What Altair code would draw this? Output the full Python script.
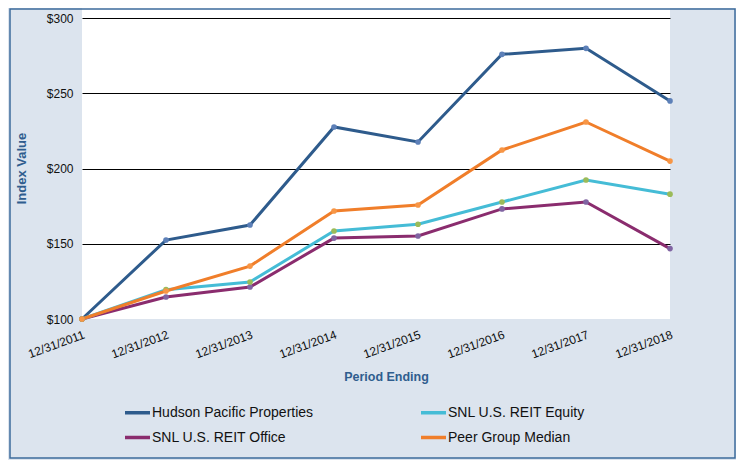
import altair as alt
import pandas as pd

periods = ["12/31/2011", "12/31/2012", "12/31/2013", "12/31/2014",
           "12/31/2015", "12/31/2016", "12/31/2017", "12/31/2018"]
series_names = ["Hudson Pacific Properties", "SNL U.S. REIT Office",
                "SNL U.S. REIT Equity", "Peer Group Median"]
hudson = [100, 152.5, 162.5, 227.7, 217.7, 276.0, 280.0, 245.0]
reit_office = [100, 114.6, 121.3, 153.8, 155.2, 173.2, 177.8, 146.8]
reit_equity = [100, 119.5, 124.6, 158.5, 163.0, 177.8, 192.4, 183.0]
peer_median = [100, 118.6, 135.2, 171.8, 175.8, 212.4, 231.0, 205.0]

line_colors = ["#2E5B8C", "#8A2C6E", "#45BCD6", "#F07E2A"]
marker_colors = ["#5D80B8", "#8064A2", "#9BBB59", "#F79646"]

rows = []
for name, vals in zip(series_names, [hudson, reit_office, reit_equity, peer_median]):
    for p, v in zip(periods, vals):
        rows.append({"Period": p, "Series": name, "Value": v})
df = pd.DataFrame(rows)

FONT = "Liberation Sans"
TITLE_COLOR = "#2F5D8E"

x_enc = alt.X("Period:N", sort=periods,
              scale=alt.Scale(type="point", padding=0),
              axis=alt.Axis(title="Period Ending", labelAngle=340, labelAlign="right",
                            labelBaseline="top", labelPadding=10, labelFontSize=12,
                            labelFont=FONT, labelColor="#111111", domain=False, ticks=False,
                            grid=False, titleFont=FONT, titleFontSize=12.5,
                            titleFontWeight="bold", titleColor=TITLE_COLOR,
                            titleX=304, titleY=57, titleBaseline="middle"))
y_enc = alt.Y("Value:Q",
              scale=alt.Scale(domain=[100, 306.8], nice=False, zero=False),
              axis=alt.Axis(title="Index Value", values=[100, 150, 200, 250, 300],
                            format="$,.0f", labelFontSize=12, labelFont=FONT,
                            labelColor="#111111", labelPadding=9, domain=False, ticks=False,
                            grid=True, gridColor="#000000", gridWidth=1,
                            gridOpacity={"condition": {"test": "datum.value == 100", "value": 0}, "value": 1},
                            titleFont=FONT, titleFontSize=13, titleFontWeight="bold",
                            titleColor=TITLE_COLOR, titleAngle=270, titleX=-61, titleY=160,
                            titleAlign="center", titleBaseline="middle"))

lines = alt.Chart(df).mark_line(strokeWidth=3).encode(
    x=x_enc, y=y_enc,
    color=alt.Color("Series:N", sort=series_names,
                    scale=alt.Scale(domain=series_names, range=line_colors),
                    legend=alt.Legend(title=None, orient="none", legendX=41, legendY=390,
                                      columns=2, columnPadding=100, rowPadding=3,
                                      symbolType="stroke", symbolSize=625,
                                      symbolStrokeWidth=3.5, labelOffset=0, labelLimit=0,
                                      labelFont=FONT, labelFontSize=14, labelColor="#111111"))
)

points = alt.Chart(df).mark_point(filled=True, size=32, opacity=1).encode(
    x=x_enc, y=y_enc,
    color=alt.Color("Series:N", scale=alt.Scale(domain=series_names, range=marker_colors),
                    legend=None)
)

border = alt.Chart(pd.DataFrame({"a": [0]})).mark_rect(
    fill=None, stroke="#3C6B9C", strokeWidth=1.5
).encode(x=alt.value(-72), x2=alt.value(653), y=alt.value(1), y2=alt.value(450))

chart = alt.layer(lines, points, border).resolve_scale(color="independent").properties(
    width=588, height=311,
    autosize=alt.AutoSizeParams(type="none"),
    padding={"left": 74, "top": 0, "right": 66, "bottom": 141},
    background="#DCE4EE"
).configure_view(fill="#FFFFFF", stroke=None)

chart.save("out.html", embed_options={"renderer": "svg", "actions": False})
